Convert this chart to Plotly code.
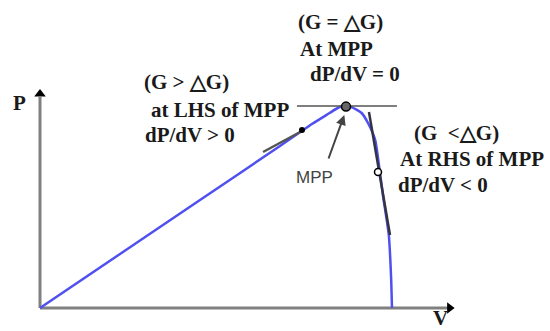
import plotly.graph_objects as go

# P-V curve of a PV module (arbitrary units)
volt = [0, 5, 10, 15, 17, 18.1, 18.6, 18.95, 19.5, 20.1, 20.5, 20.95, 21.25, 21.45, 21.8, 21.95, 22]
power = [0, 27, 54, 81, 92, 97.5, 100, 101, 100.3, 97.5, 92.5, 84, 67.5, 55.5, 36.5, 14, 0]

# tangent segments and operating points
left_tan_v = [13.94, 16.375]
left_tan_p = [78, 88.5]
flat_tan_v = [16.06, 22.31]
flat_tan_p = [101, 101]
right_tan_v = [20.56, 21.875]
right_tan_p = [98, 36.5]
mpp_v, mpp_p = 19.125, 100.7
left_pt = (16.375, 89)
right_pt = (21.125, 68)

W, H = 550, 331


def px(x, y):
    # pixel position -> paper coordinates
    return x / W, 1 - y / H


fig = go.Figure()

# axes drawn as gray lines with black arrowheads
fig.add_trace(go.Scatter(x=[0, 0], y=[0, 105.5], mode="lines",
                         line=dict(color="#808080", width=3), hoverinfo="skip"))
fig.add_trace(go.Scatter(x=[0, 25.5], y=[0, 0], mode="lines",
                         line=dict(color="#808080", width=3), hoverinfo="skip"))
fig.add_trace(go.Scatter(x=[0], y=[107], mode="markers",
                         marker=dict(symbol="triangle-up", size=10, color="black")))
fig.add_trace(go.Scatter(x=[25.6], y=[0], mode="markers",
                         marker=dict(symbol="triangle-right", size=10, color="black")))

# P-V curve
fig.add_trace(go.Scatter(x=volt, y=power, mode="lines",
                         line=dict(color="#5050f0", width=2.5, shape="spline", smoothing=0.5),
                         hoverinfo="skip"))

# tangents
fig.add_trace(go.Scatter(x=left_tan_v, y=left_tan_p, mode="lines",
                         line=dict(color="#555555", width=2.5)))
fig.add_trace(go.Scatter(x=flat_tan_v, y=flat_tan_p, mode="lines",
                         line=dict(color="#555555", width=1.5)))
fig.add_trace(go.Scatter(x=right_tan_v, y=right_tan_p, mode="lines",
                         line=dict(color="#333344", width=2.5)))

# points
fig.add_trace(go.Scatter(x=[left_pt[0]], y=[left_pt[1]], mode="markers",
                         marker=dict(symbol="circle", size=6, color="black")))
fig.add_trace(go.Scatter(x=[right_pt[0]], y=[right_pt[1]], mode="markers",
                         marker=dict(symbol="circle", size=7, color="white",
                                     line=dict(color="black", width=1.5))))
fig.add_trace(go.Scatter(x=[mpp_v], y=[mpp_p], mode="markers",
                         marker=dict(symbol="circle", size=9, color="#666666",
                                     line=dict(color="black", width=1.5))))

serif = dict(family="Liberation Serif, Times New Roman, serif", size=21, color="#1a1a1a")
labels = [
    ("(G = \u25b3G)", 340, 22),
    ("At MPP", 336, 49),
    ("dP/dV = 0", 355, 74),
    ("(G > \u25b3G)", 186, 82),
    ("at LHS of MPP", 220, 110),
    ("dP/dV > 0", 190, 135),
    ("(G  <\u25b3G)", 456, 133),
    ("At RHS of MPP", 472, 159),
    ("dP/dV < 0", 443, 185),
    ("P", 19, 103),
    ("V", 441, 318),
]
annotations = []
for text, x, y in labels:
    ax, ay = px(x, y)
    annotations.append(dict(text="<b>%s</b>" % text, x=ax, y=ay, xref="paper", yref="paper",
                            showarrow=False, font=serif, xanchor="center", yanchor="middle"))

mx, my = px(314, 177)
annotations.append(dict(text="MPP", x=mx, y=my, xref="paper", yref="paper", showarrow=False,
                        font=dict(family="Liberation Sans, Arial, sans-serif", size=17, color="#444444")))
# arrow pointing at the MPP
annotations.append(dict(text="", x=19.02, y=96.5, xref="x", yref="y",
                        ax=18.0, ay=74, axref="x", ayref="y",
                        showarrow=True, arrowhead=2, arrowsize=1, arrowwidth=2, arrowcolor="#444444"))

fig.update_layout(
    width=W, height=H,
    margin=dict(l=0, r=0, t=0, b=0),
    paper_bgcolor="white", plot_bgcolor="white",
    showlegend=False,
    annotations=annotations,
    xaxis=dict(range=[-2.5, 31.875], visible=False, fixedrange=True),
    yaxis=dict(range=[-11.5, 154], visible=False, fixedrange=True),
)

# drop the default page margin so the figure sits at the window's corner
fig.write_html("out.html", config={"displayModeBar": False},
               post_script="document.body.style.margin='0';document.body.style.overflow='hidden';")
